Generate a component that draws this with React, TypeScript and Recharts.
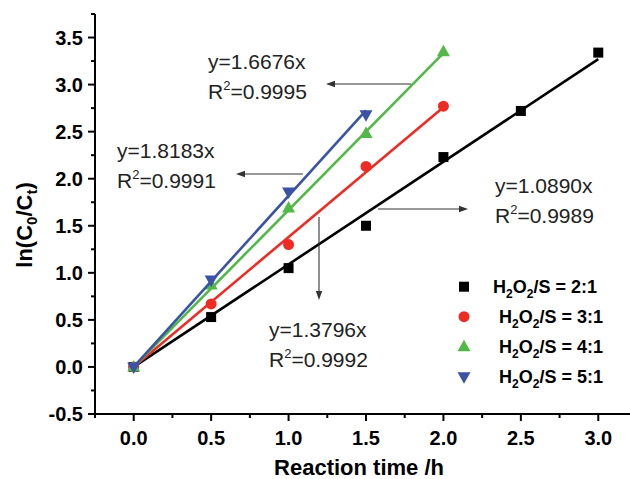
import React from 'react';
import { ComposedChart, Scatter, XAxis, YAxis } from 'recharts';

// ---- data ----
const ratio2 = [
  { x: 0, y: 0 }, { x: 0.5, y: 0.53 }, { x: 1.0, y: 1.05 }, { x: 1.5, y: 1.5 },
  { x: 2.0, y: 2.23 }, { x: 2.5, y: 2.72 }, { x: 3.0, y: 3.34 },
];
const ratio3 = [
  { x: 0, y: 0 }, { x: 0.5, y: 0.67 }, { x: 1.0, y: 1.3 }, { x: 1.5, y: 2.13 }, { x: 2.0, y: 2.77 },
];
const ratio4 = [
  { x: 0, y: 0 }, { x: 0.5, y: 0.87 }, { x: 1.0, y: 1.69 }, { x: 1.5, y: 2.48 }, { x: 2.0, y: 3.35 },
];
const ratio5 = [
  { x: 0, y: 0 }, { x: 0.5, y: 0.925 }, { x: 1.0, y: 1.86 }, { x: 1.5, y: 2.68 },
];
// fitted lines (endpoints)
const fit2 = [{ x: 0, y: 0 }, { x: 3.0, y: 3.27 }];
const fit3 = [{ x: 0, y: 0 }, { x: 2.0, y: 2.76 }];
const fit4 = [{ x: 0, y: 0 }, { x: 2.0, y: 3.335 }];
const fit5 = [{ x: 0, y: 0 }, { x: 1.5, y: 2.727 }];

const seriesLabels = ['2:1', '3:1', '4:1', '5:1'];
const fitEquations = ['y=1.0890x', 'y=1.3796x', 'y=1.6676x', 'y=1.8183x'];
const fitR2 = ['=0.9989', '=0.9992', '=0.9995', '=0.9991'];

const xTicks = [-0.25, 0, 0.25, 0.5, 0.75, 1, 1.25, 1.5, 1.75, 2, 2.25, 2.5, 2.75, 3, 3.25];
const yTicks = [-0.5, -0.25, 0, 0.25, 0.5, 0.75, 1, 1.25, 1.5, 1.75, 2, 2.25, 2.5, 2.75, 3, 3.25, 3.5, 3.75];

const COLORS = ['#000000', '#ee2b24', '#52b847', '#3a53a4'];
const FONT = '"Liberation Sans", Arial, sans-serif';

const isMajor = (v: number) => Math.abs(v * 2 - Math.round(v * 2)) < 1e-6;

const XTick = (props: any) => {
  const { x, y, payload } = props;
  const v = payload.value;
  const major = isMajor(v);
  return (
    <g>
      <line x1={x} y1={y} x2={x} y2={y + (major ? 7 : 4)} stroke="#000" strokeWidth={2} />
      {major && (
        <text x={x} y={y + 31} textAnchor="middle" fontFamily={FONT} fontWeight="bold" fontSize={20} fill="#000">
          {v.toFixed(1)}
        </text>
      )}
    </g>
  );
};

const YTick = (props: any) => {
  const { x, y, payload } = props;
  const v = payload.value;
  const major = isMajor(v);
  return (
    <g>
      <line x1={x} y1={y} x2={x - (major ? 7 : 4)} y2={y} stroke="#000" strokeWidth={2} />
      {major && (
        <text x={x - 12} y={y + 7} textAnchor="end" fontFamily={FONT} fontWeight="bold" fontSize={20} fill="#000">
          {v.toFixed(1)}
        </text>
      )}
    </g>
  );
};

const Square = ({ cx, cy, fill }: any) => <rect x={cx - 5} y={cy - 5} width={10} height={10} fill={fill} />;
const Circle = ({ cx, cy, fill }: any) => <circle cx={cx} cy={cy} r={5.5} fill={fill} />;
const TriUp = ({ cx, cy, fill }: any) => (
  <path d={`M${cx},${cy - 7} L${cx + 6.5},${cy + 4.5} L${cx - 6.5},${cy + 4.5} Z`} fill={fill} />
);
const TriDown = ({ cx, cy, fill }: any) => (
  <path d={`M${cx},${cy + 7} L${cx + 6.5},${cy - 4.5} L${cx - 6.5},${cy - 4.5} Z`} fill={fill} />
);
const NoShape = () => <g />;
const SHAPES = [Square, Circle, TriUp, TriDown];

const Arrow = ({ x1, y1, x2, y2 }: { x1: number; y1: number; x2: number; y2: number }) => {
  const ang = Math.atan2(y2 - y1, x2 - x1);
  const L = 9, W = 3.2;
  const bx = x2 - L * Math.cos(ang), by = y2 - L * Math.sin(ang);
  const px = -Math.sin(ang) * W, py = Math.cos(ang) * W;
  return (
    <g>
      <line x1={x1} y1={y1} x2={bx} y2={by} stroke="#333" strokeWidth={1.1} />
      <path d={`M${x2},${y2} L${bx + px},${by + py} L${bx - px},${by - py} Z`} fill="#333" />
    </g>
  );
};

const Eq = ({ x, y, eq, r2 }: { x: number; y: number; eq: string; r2: string }) => (
  <g fontFamily={FONT} fontSize={21} fill="#222">
    <text x={x} y={y}>{eq}</text>
    <text x={x} y={y + 30}>
      R<tspan fontSize={13} dy={-9}>2</tspan>
      <tspan dy={9}>{r2}</tspan>
    </text>
  </g>
);

export default function App() {
  const legendRows = [286.7, 316.7, 346.7, 376.7];
  const legendTextX = [493, 499, 499, 499];
  return (
    <div style={{ position: 'absolute', left: 0, top: 0, width: 630, height: 479, overflow: 'hidden', background: '#fff' }}>
      <ComposedChart width={645} height={479} margin={{ top: 14, right: 8, bottom: 15, left: 35 }}>
        <XAxis
          type="number"
          dataKey="x"
          domain={[-0.25, 3.25]}
          ticks={xTicks}
          interval={0}
          allowDataOverflow
          height={50}
          tickSize={0}
          tickMargin={0}
          tickLine={false}
          tick={<XTick />}
          axisLine={{ stroke: '#000', strokeWidth: 2 }}
        />
        <XAxis
          xAxisId="top"
          orientation="top"
          type="number"
          dataKey="x"
          domain={[-0.25, 3.25]}
          height={0}
          tick={false}
          tickLine={false}
          axisLine={{ stroke: '#000', strokeWidth: 2 }}
        />
        <YAxis
          type="number"
          dataKey="y"
          domain={[-0.5, 3.75]}
          ticks={yTicks}
          interval={0}
          allowDataOverflow
          width={60}
          tickSize={0}
          tickMargin={0}
          tickLine={false}
          tick={<YTick />}
          axisLine={{ stroke: '#000', strokeWidth: 2 }}
        />
        <Scatter data={fit2} line={{ stroke: COLORS[0], strokeWidth: 2.6 }} shape={<NoShape />} isAnimationActive={false} />
        <Scatter data={ratio2} fill={COLORS[0]} shape={<Square />} isAnimationActive={false} />
        <Scatter data={fit3} line={{ stroke: COLORS[1], strokeWidth: 2.6 }} shape={<NoShape />} isAnimationActive={false} />
        <Scatter data={ratio3} fill={COLORS[1]} shape={<Circle />} isAnimationActive={false} />
        <Scatter data={fit4} line={{ stroke: COLORS[2], strokeWidth: 2.6 }} shape={<NoShape />} isAnimationActive={false} />
        <Scatter data={ratio4} fill={COLORS[2]} shape={<TriUp />} isAnimationActive={false} />
        <Scatter data={fit5} line={{ stroke: COLORS[3], strokeWidth: 2.6 }} shape={<NoShape />} isAnimationActive={false} />
        <Scatter data={ratio5} fill={COLORS[3]} shape={<TriDown />} isAnimationActive={false} />
      </ComposedChart>
      <svg width={630} height={479} style={{ position: 'absolute', left: 0, top: 0, pointerEvents: 'none' }}>
        {/* y-axis title */}
        <text
          transform="translate(32,225) rotate(-90)"
          textAnchor="middle"
          fontFamily={FONT}
          fontWeight="bold"
          fontSize={22}
          fill="#000"
        >
          ln(C<tspan fontSize={15} dy={5}>0</tspan>
          <tspan dy={-5}>/C</tspan>
          <tspan fontSize={15} dy={5}>t</tspan>
          <tspan dy={-5}>)</tspan>
        </text>
        {/* x-axis title */}
        <text x={359} y={475} textAnchor="middle" fontFamily={FONT} fontWeight="bold" fontSize={22} fill="#000">
          Reaction time /h
        </text>

        {/* annotations */}
        <Eq x={208} y={68.5} eq={fitEquations[2]} r2={fitR2[2]} />
        <Arrow x1={411} y1={84} x2={326} y2={84} />
        <Eq x={117} y={158} eq={fitEquations[3]} r2={fitR2[3]} />
        <Arrow x1={303} y1={174} x2={236} y2={174} />
        <Eq x={495} y={193} eq={fitEquations[0]} r2={fitR2[0]} />
        <Arrow x1={378} y1={209} x2={468} y2={209} />
        <Eq x={269} y={336.5} eq={fitEquations[1]} r2={fitR2[1]} />
        <Arrow x1={319} y1={217} x2={319} y2={300} />

        {/* legend */}
        {seriesLabels.map((lab, i) => {
          const S = SHAPES[i];
          const cy = legendRows[i];
          return (
            <g key={lab}>
              <S cx={464} cy={cy} fill={COLORS[i]} />
              <text x={legendTextX[i]} y={cy + 6.5} fontFamily={FONT} fontWeight="bold" fontSize={18} fill="#000">
                H<tspan fontSize={12} dy={5}>2</tspan>
                <tspan dy={-5}>O</tspan>
                <tspan fontSize={12} dy={5}>2</tspan>
                <tspan dy={-5}>{`/S = ${lab}`}</tspan>
              </text>
            </g>
          );
        })}
      </svg>
    </div>
  );
}
